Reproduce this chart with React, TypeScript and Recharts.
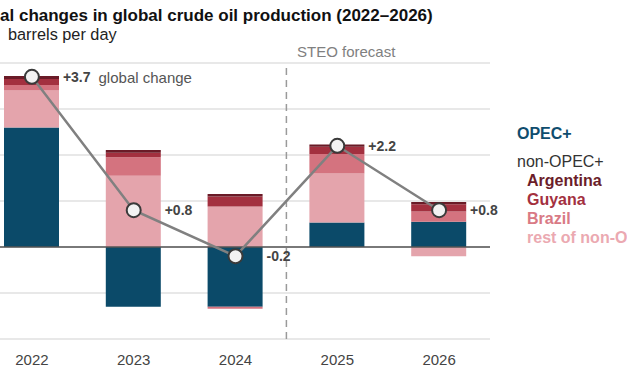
import React from 'react';
import { ComposedChart, Bar, Line, XAxis, YAxis, CartesianGrid, ReferenceLine, LabelList } from 'recharts';

const years = ['2022', '2023', '2024', '2025', '2026'];
const opecPlus = [2.6, -1.3, -1.3, 0.53, 0.55];
const restNonOpec = [0.8, 1.55, 0.88, 1.07, -0.2];
const brazil = [0.12, 0.4, -0.04, 0.42, 0.22];
const guyana = [0.13, 0.1, 0.22, 0.16, 0.16];
const argentina = [0.07, 0.06, 0.05, 0.05, 0.05];
const globalChange = [3.7, 0.8, -0.2, 2.2, 0.8];
const changeLabels = ['+3.7', '+0.8', '-0.2', '+2.2', '+0.8'];
const yTicks = [-2, -1, 0, 1, 2, 3, 4];

const data = years.map((year, i) => ({
  year,
  opec: opecPlus[i],
  rest: restNonOpec[i],
  brazil: brazil[i],
  guyana: guyana[i],
  argentina: argentina[i],
  total: globalChange[i],
}));

const FONT = '"Liberation Sans", Arial, Helvetica, sans-serif';
const C_OPEC = '#0b4a69';
const C_REST = '#e4a4ac';
const C_BRAZIL = '#d4737f';
const C_GUYANA = '#a3303f';
const C_ARG = '#6a1b27';

const OFFSET = 100;

const Dot = (props: any) => {
  const { cx, cy } = props;
  if (cx == null || cy == null) return null;
  return <circle cx={cx} cy={cy} r={7} fill="#f2f2f2" stroke="#3a3a3a" strokeWidth={2} />;
};

const TotalLabel = (props: any) => {
  const { x, y, index } = props;
  if (x == null || y == null) return null;
  return (
    <text x={x + 31} y={y} dominantBaseline="central" fontFamily={FONT}>
      <tspan fontSize={14} fontWeight="bold" fill="#444">{changeLabels[index]}</tspan>
      {index === 0 ? (
        <tspan dx={8} fontSize={15} fill="#555">global change</tspan>
      ) : null}
    </text>
  );
};

export default function App() {
  return (
    <div style={{ position: 'absolute', left: 0, top: 0, width: 627, height: 376, overflow: 'hidden', background: '#fff' }}>
      <div style={{ position: 'absolute', left: -OFFSET, top: 0 }}>
        <ComposedChart
          width={760}
          height={376}
          data={data}
          stackOffset="sign"
          margin={{ top: 63, right: 170, bottom: 7, left: 81 }}
        >
          <CartesianGrid vertical={false} stroke="#e0e0e0" strokeWidth={1.5} />
          <XAxis
            dataKey="year"
            axisLine={false}
            tickLine={false}
            height={30}
            tickMargin={9}
            tick={{ fontSize: 15, fill: '#444', fontFamily: FONT }}
          />
          <YAxis hide width={0} domain={[-2, 4]} ticks={yTicks} />
          <ReferenceLine x="2024" position="end" stroke="#9a9a9a" strokeWidth={1.5} strokeDasharray="7 5" />
          <Bar dataKey="opec" stackId="s" fill={C_OPEC} barSize={55} isAnimationActive={false} />
          <Bar dataKey="rest" stackId="s" fill={C_REST} barSize={55} isAnimationActive={false} />
          <Bar dataKey="brazil" stackId="s" fill={C_BRAZIL} barSize={55} isAnimationActive={false} />
          <Bar dataKey="guyana" stackId="s" fill={C_GUYANA} barSize={55} isAnimationActive={false} />
          <Bar dataKey="argentina" stackId="s" fill={C_ARG} barSize={55} isAnimationActive={false} />
          <ReferenceLine y={0} stroke="#555" strokeWidth={1.5} />
          <Line
            dataKey="total"
            stroke="#808080"
            strokeWidth={2.5}
            dot={<Dot />}
            activeDot={false}
            isAnimationActive={false}
          >
            <LabelList dataKey="total" content={<TotalLabel />} />
          </Line>
        </ComposedChart>
      </div>
      <svg width={627} height={376} style={{ position: 'absolute', left: 0, top: 0, pointerEvents: 'none' }}>
        <text x={-43.4} y={21} fontFamily={FONT} fontSize={17} fontWeight="bold" fill="#111">
          Annual changes in global crude oil production (2022–2026)
        </text>
        <text x={-1} y={40} textAnchor="end" fontFamily={FONT} fontSize={16.3} fill="#222">million</text>
        <text x={8} y={40} fontFamily={FONT} fontSize={16.3} fill="#222">barrels per day</text>
        <text x={297} y={56.5} fontFamily={FONT} fontSize={15} fill="#808080">STEO forecast</text>
        <text x={517} y={139} fontFamily={FONT} fontSize={16} fontWeight="bold" fill="#0f4d6e">OPEC+</text>
        <text x={517} y={167} fontFamily={FONT} fontSize={16} fill="#333">non-OPEC+</text>
        <text x={527} y={185.5} fontFamily={FONT} fontSize={16} fontWeight="bold" fill="#6b1d2a">Argentina</text>
        <text x={527} y={204.5} fontFamily={FONT} fontSize={16} fontWeight="bold" fill="#a3303f">Guyana</text>
        <text x={527} y={223.5} fontFamily={FONT} fontSize={16} fontWeight="bold" fill="#d97a85">Brazil</text>
        <text x={527} y={242.5} fontFamily={FONT} fontSize={16} fontWeight="bold" fill="#eba9b1">rest of non-OPEC+</text>
      </svg>
    </div>
  );
}
